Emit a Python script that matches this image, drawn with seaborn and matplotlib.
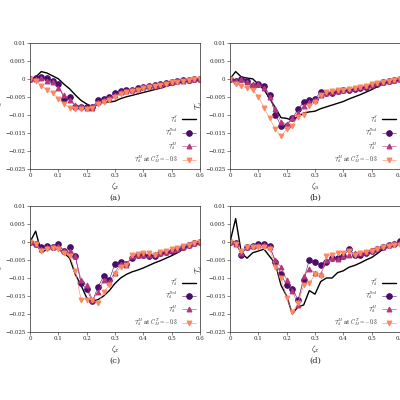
import numpy as np
import pandas as pd
import matplotlib
matplotlib.use("Agg")
import matplotlib.pyplot as plt
import seaborn as sns

sns.set_style("ticks")
plt.rcParams['mathtext.fontset'] = 'cm'
plt.rcParams['font.family'] = ['DejaVu Serif']

x = [round(0.02 * i, 2) for i in range(31)]

a_line = [0,0.5,2.0,1.6,0.8,0,-1.5,-2.8,-4.5,-6.0,-7.0,-7.8,-7.2,-6.3,-6.5,-6.2,-5.5,-5.0,-4.6,-4.2,-3.8,-3.4,-3.0,-2.6,-2.1,-1.6,-1.2,-0.8,-0.5,-0.2,0]
a_dsm = [0,0.2,0.5,0.3,-0.6,-1.5,-5.5,-5.0,-7.8,-7.8,-7.8,-7.8,-6.0,-5.5,-5.0,-4.0,-3.5,-3.2,-3.0,-2.5,-2.2,-2.0,-1.8,-1.5,-1.2,-0.8,-0.6,-0.4,-0.2,-0.1,0]
a_m = [0,0,0.2,-0.5,-1.0,-2.5,-4.5,-6.0,-7.2,-7.5,-8.0,-8.0,-6.5,-6.0,-5.2,-4.5,-3.8,-3.5,-3.2,-2.8,-2.4,-2.1,-1.9,-1.6,-1.3,-1.0,-0.7,-0.5,-0.3,-0.1,0]
a_c = [0,-0.5,-2.0,-3.0,-4.0,-5.5,-7.0,-8.0,-8.5,-8.5,-8.5,-8.0,-7.0,-6.5,-5.8,-5.0,-4.2,-3.8,-3.4,-3.0,-2.6,-2.2,-2.0,-1.7,-1.4,-1.0,-0.8,-0.5,-0.3,-0.1,0]

b_line = [0,2,0.5,0.2,0,-1.5,-3,-5.5,-8,-10.8,-11,-11.5,-10.5,-9.5,-9.2,-9.0,-8.3,-7.8,-7.3,-6.8,-6.3,-5.6,-5.0,-4.4,-3.7,-3.0,-2.2,-1.4,-0.7,-0.2,0]
b_dsm = [0,-0.5,0,-0.5,-2,-1.5,-2,-4.5,-10,-13,-13,-11,-8.5,-6.5,-6,-5.5,-3.8,-4,-4,-3.5,-3,-3,-2.8,-2.5,-2.2,-1.8,-1.4,-1.0,-0.5,-0.2,0]
b_m = [0,-0.5,0,-1,-1.5,-1.5,-2.5,-5,-8.5,-12,-12.5,-11,-9.5,-7.5,-6.5,-6,-4.5,-4,-3.8,-3.3,-3,-2.8,-2.5,-2.3,-2,-1.6,-1.2,-0.8,-0.5,-0.2,0]
b_c = [0,-1.5,-2,-2.5,-3,-5,-8,-11,-14,-16,-14,-13,-10.5,-10,-7.5,-6.5,-4.5,-3.8,-3.5,-3.2,-3,-2.8,-2.5,-2.2,-1.9,-1.5,-1.2,-0.8,-0.5,-0.2,0]

c_line = [0,3,-3,-2,-1.5,-2,-3,-4.5,-9,-12,-15.5,-16.5,-16,-15,-13.5,-11.5,-10,-9,-8.3,-7.8,-7.2,-6.5,-5.8,-5.2,-4.5,-3.8,-3,-2,-1,-0.3,0]
c_dsm = [0,-0.5,-1.5,-1,-1.3,-0.5,-2.5,-1.5,-4,-11.5,-13,-16.5,-12.5,-9.5,-10.5,-6,-5.5,-6,-4.5,-3.5,-3.5,-3.8,-3.8,-3,-2.8,-2.5,-2,-1.5,-0.8,-0.3,0]
c_m = [0,-0.5,-2,-1.5,-1.5,-1,-2.5,-2.5,-4,-10.5,-12,-16,-14,-10.5,-11,-8.5,-6,-6.5,-4,-3.7,-3.5,-3.5,-3.3,-3,-2.8,-2.3,-2,-1.4,-0.8,-0.3,0]
c_c = [0,-0.5,-2.5,-2,-1.8,-2,-3,-4,-8,-16,-16,-16,-17,-14,-12,-9,-7,-6.5,-3.5,-3.2,-3,-3,-3.5,-2.8,-2.5,-2,-1.8,-1.2,-0.7,-0.3,0]

d_line = [0,6.5,-3,-4.5,-3,-2.5,-2,-4,-6,-12,-15,-20,-18,-17.5,-13.5,-14.5,-11,-10,-10,-8.5,-8,-7,-6.5,-5.8,-5,-4.3,-3.2,-2,-1,-0.3,0]
d_dsm = [0,-0.3,-3.5,-1.5,-1,-0.5,-0.5,-1,-5.5,-9,-12,-13,-16,-10.5,-5,-5.5,-6.5,-5.5,-4.5,-4.5,-4,-2,-3.5,-3.5,-3,-2.5,-2,-1.3,-0.8,-0.5,0.3]
d_m = [0,-0.5,-3,-1.5,-1,-0.8,-0.8,-1.5,-5,-7,-10.5,-13.5,-17.5,-9.5,-7.5,-8.5,-9,-5,-4.5,-4.8,-4,-3.5,-3,-3,-2.8,-2.3,-1.8,-1.2,-0.7,-0.3,0]
d_c = [0,-0.5,-2.5,-1.5,-1.5,-1.5,-1.5,-2,-7,-10,-15.5,-19.5,-17,-12,-11.5,-9,-9.5,-4,-3.5,-3,-3,-2.5,-3.5,-3,-2.8,-2.5,-2,-1.5,-1,-0.7,-0.8]

panels = [("(a)", r"$\zeta_x$", a_line, a_dsm, a_m, a_c),
          ("(b)", r"$\zeta_u$", b_line, b_dsm, b_m, b_c),
          ("(c)", r"$\zeta_x$", c_line, c_dsm, c_m, c_c),
          ("(d)", r"$\zeta_x$", d_line, d_dsm, d_m, d_c)]

labels = [r"$\mathcal{T}_d^S$", r"$\mathcal{T}_d^{Dsd}$", r"$\mathcal{T}_d^{M}$",
          r"$\mathcal{T}_d^{M}$ at $C_M^T=-0.3$"]
c_dsm, c_mag, c_or = "#4a0c6b", "#b5367a", "#fb8861"

fig = plt.figure(figsize=(4, 4), dpi=100)
pos = [(0.075, 0.578), (0.575, 0.578), (0.075, 0.17), (0.575, 0.17)]
for (title, xl, ln, dsm, m, cc), (l, b) in zip(panels, pos):
    ax = fig.add_axes([l, b, 0.425, 0.315])
    sf = lambda v: np.array(v) * 1e-3
    sns.lineplot(x=x, y=sf(ln), ax=ax, color="black", lw=1.0, label=labels[0])
    sns.lineplot(x=x, y=sf(dsm), ax=ax, color=c_dsm, lw=0.4, marker="o", ms=4,
                 mec=c_dsm, label=labels[1])
    sns.lineplot(x=x, y=sf(m), ax=ax, color=c_mag, lw=0.4, marker="^", ms=3.5,
                 mec=c_mag, label=labels[2])
    sns.lineplot(x=x, y=sf(cc), ax=ax, color=c_or, lw=0.4, marker="v", ms=3.5,
                 mec=c_or, label=labels[3])
    ax.set_xlim(0, 0.6)
    ax.set_ylim(-0.025, 0.01)
    ax.set_xticks([0, 0.1, 0.2, 0.3, 0.4, 0.5, 0.6])
    ax.set_xticklabels(["0", "0.1", "0.2", "0.3", "0.4", "0.5", "0.6"])
    ax.set_yticks([0.01, 0.005, 0, -0.005, -0.01, -0.015, -0.02, -0.025])
    ax.set_yticklabels(["0.01", "0.005", "0", "\u22120.005", "\u22120.01", "\u22120.015",
                        "\u22120.02", "\u22120.025"])
    ax.tick_params(labelsize=4, length=2, width=0.4, pad=1.2)
    for s in ax.spines.values():
        s.set_linewidth(0.5)
    ax.set_xlabel(xl, fontsize=6, labelpad=1)
    ax.set_ylabel(r"$\mathcal{T}_d$", fontsize=5.5, labelpad=0)
    ax.text(0.5, -0.2, title, transform=ax.transAxes, ha="center", va="top", fontsize=6)
    ax.legend(loc="lower right", frameon=False, fontsize=4, markerfirst=False,
              handlelength=2.5, labelspacing=0.3, borderaxespad=0.3)

fig.savefig("out.png", dpi=100)
